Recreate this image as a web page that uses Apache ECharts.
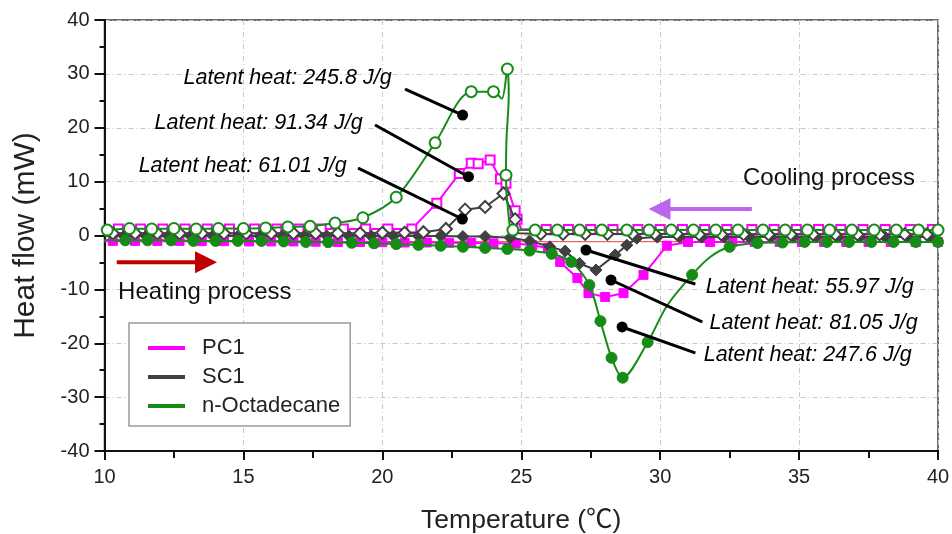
<!DOCTYPE html>
<html>
<head>
<meta charset="utf-8">
<script src="https://cdn.jsdelivr.net/npm/echarts@6/dist/echarts.min.js"></script>
<style>
html,body{margin:0;padding:0;background:#fff;}
#container{width:952px;height:534px;}
</style>
</head>
<body>
<div id="container"></div>
<script>
// heat flow (mW) against temperature (C); a third value 0 marks a point of the line drawn without a symbol
var octHeat = [[10.1,1.0],[10.9,1.3],[11.7,1.2],[12.5,1.3],[13.3,1.2],[14.1,1.3],[15.0,1.3],[15.8,1.4],[16.6,1.6],[17.4,1.7],
    [18.3,2.3],[19.3,3.3],[20.5,7.1],[21.9,17.2],[23.2,26.7],[24.0,26.7],[24.3,25.4,0],[24.5,30.9],[24.55,26.0,0],[24.47,18.0,0],
    [24.45,11.2],[24.52,5.0,0],[24.7,1.0],[25.5,1.0],[26.3,1.0],[27.1,1.0],[27.9,1.0],[28.8,1.0],[29.6,1.0],[30.4,1.0],[31.2,1.0],
    [32.0,1.0],[32.8,1.0],[33.7,1.0],[34.5,1.0],[35.3,1.0],[36.1,1.0],[36.9,1.0],[37.7,1.0],[38.5,1.0],[39.3,1.0],[40.0,1.0]];
var octCool = [[10.0,-0.8,0],[10.75,-0.9],[11.55,-0.9],[12.4,-0.9],[13.2,-1.0],[14.0,-1.0],[14.8,-1.0],[15.65,-1.0],[16.45,-1.1],
    [17.25,-1.2],[18.05,-1.25],[18.9,-1.35],[19.7,-1.45],[20.5,-1.6],[21.3,-1.75],[22.1,-1.9],[22.9,-2.1],[23.7,-2.3],[24.5,-2.5],
    [25.3,-2.8],[26.1,-3.4],[26.8,-4.9],[27.45,-9.2],[27.85,-15.9],[28.25,-22.7],[28.65,-26.4],[29.55,-19.8],[30.25,-13.0,0],
    [31.15,-7.3],[31.8,-4.0,0],[32.5,-2.1],[33.5,-1.4],[34.4,-1.3],[35.2,-1.2],[36.0,-1.2],[36.8,-1.2],[37.6,-1.2],[38.4,-1.2],
    [39.2,-1.2],[40.0,-1.2]];
var pc1Heat = [[10.0,1.1,0],[10.5,1.2],[11.3,1.2],[12.1,1.2],[12.9,1.2],[13.7,1.2],[14.5,1.2],[15.4,1.2],[16.2,1.2],[17.0,1.2],
    [17.8,1.2],[18.6,1.2],[19.4,1.2],[20.2,1.2],[21.06,1.2],[21.96,6.0],[22.77,11.5],[23.2,13.4],[23.45,13.3],[23.88,14.0],
    [24.25,10.5],[24.45,9.7],[24.78,4.6],[24.85,3.0],[25.0,1.2,0],[25.9,1.1],[26.7,1.1],[27.5,1.1],[28.3,1.1],[29.2,1.1],[30.0,1.1],
    [30.8,1.1],[31.6,1.1],[32.4,1.1],[33.3,1.1],[34.1,1.1],[34.9,1.1],[35.7,1.1],[36.5,1.1],[37.3,1.1],[38.1,1.1],[39.0,1.1],[39.8,1.1],[40.0,1.1,0]];
var pc1Cool = [[10.0,-1.0,0],[10.3,-1.0],[11.1,-1.0],[11.9,-1.0],[12.7,-1.0],[13.5,-1.05],[14.3,-1.05],[15.2,-1.1],[16.0,-1.1],
    [16.8,-1.1],[17.6,-1.15],[18.4,-1.2],[19.2,-1.2],[20.0,-1.25],[20.8,-1.3],[21.6,-1.3],[22.4,-1.35],[23.2,-1.4],[24.0,-1.45],
    [24.8,-1.5],[25.4,-1.8],[25.96,-2.3],[26.4,-4.9],[27.02,-7.9],[27.42,-10.7],[28.02,-11.4],[28.68,-10.7],[29.4,-7.3],[30.24,-1.9],
    [31.0,-1.2],[31.8,-1.2],[32.6,-1.2],[33.4,-1.2],[34.3,-1.2],[35.1,-1.2],[35.9,-1.2],[36.7,-1.2],[37.5,-1.2],[38.3,-1.2],[39.2,-1.2],[40.0,-1.2]];
var sc1Heat = [[10.0,0.4,0],[10.3,0.4],[11.1,0.4],[11.9,0.4],[12.7,0.4],[13.5,0.4],[14.3,0.4],[15.1,0.4],[16.0,0.4],[16.8,0.4],
    [17.6,0.4],[18.4,0.4],[19.2,0.4],[20.0,0.5],[20.8,0.5],[21.48,0.6],[22.29,1.2],[22.98,4.8],[23.7,5.3],[24.36,7.8],[24.78,3.0],
    [24.9,0.4,0],[25.7,0.3],[26.5,0.3],[27.3,0.3],[28.1,0.3],[29.0,0.3],[29.8,0.3],[30.6,0.3],[31.4,0.2],[32.2,0.2],[33.0,0.2],
    [33.9,0.2],[34.7,0.2],[35.5,0.2],[36.3,0.2],[37.1,0.2],[37.9,0.2],[38.8,0.2],[39.6,0.2],[40.0,0.2,0]];
var sc1Cool = [[10.0,-0.1,0],[10.7,-0.1],[11.5,-0.1],[12.3,-0.1],[13.1,-0.1],[13.9,-0.1],[14.8,-0.1],[15.6,-0.1],[16.4,-0.1],
    [17.2,-0.1],[18.0,-0.1],[18.8,-0.1],[19.6,-0.1],[20.4,-0.1],[21.3,-0.1],[22.1,-0.1],[22.9,-0.2],[23.7,-0.2],[24.6,-0.4],
    [25.3,-1.0],[26.03,-2.1],[26.58,-2.9],[27.1,-5.2],[27.69,-6.4],[28.38,-3.6],[28.8,-1.8],[29.16,-0.5],[29.9,-0.3],[30.7,-0.3],
    [31.5,-0.3],[32.3,-0.3],[33.2,-0.3],[34.0,-0.3],[34.8,-0.3],[35.6,-0.3],[36.4,-0.3],[37.2,-0.3],[38.1,-0.3],[38.9,-0.3],[39.7,-0.3],[40.0,-0.3,0]];
var baseLine = [[10,-1.15],[40,-1.15]];

var legendNames = ['PC1','SC1','n-Octadecane'];
var noteText = ['Latent heat: 245.8 J/g','Latent heat: 91.34 J/g','Latent heat: 61.01 J/g',
                'Latent heat: 55.97 J/g','Latent heat: 81.05 J/g','Latent heat: 247.6 J/g'];
var noteDot = [[22.89,22.36],[23.10,10.91],[22.88,3.06],[27.33,-2.69],[28.23,-8.26],[28.63,-16.98]];
var noteEnd = [[20.82,27.18],[19.74,20.50],[19.13,12.52],[31.26,-9.0],[31.51,-16.05],[31.26,-21.8]];
var noteSide = ['left','left','left','right','right','right'];
var noteShift = [[13,-11],[12,-2],[11,-2],[10,3],[7,1],[8,2]];

var FONT = "'Liberation Sans', Arial, 'Noto Sans CJK SC', sans-serif";
var cMag = '#ff00ff', cGray = '#404040', cGreen = '#168c16';

function symSize(s) {
    return function (v) { return v.length > 2 ? 0 : s; };
}
function curve(name, data, color, symbol, size, hollow, z, smooth) {
    return {
        name: name, type: 'line', data: data, z: z, smooth: smooth || false,
        symbol: symbol, symbolSize: symSize(size), showAllSymbol: true,
        lineStyle: {color: color, width: 2},
        itemStyle: {color: hollow ? '#fff' : color, borderColor: color, borderWidth: hollow ? 2 : 1},
        emphasis: {disabled: true}, animation: false
    };
}

var series = [
    {type: 'line', data: baseLine, symbol: 'none', z: 1, lineStyle: {color: '#e8402f', width: 1}, animation: false, silent: true},
    curve('PC1', pc1Cool, cMag, 'rect', 9, false, 2),
    curve('PC1', pc1Heat, cMag, 'rect', 9, true, 2),
    curve('SC1', sc1Cool, cGray, 'diamond', 12, false, 3),
    curve('SC1', sc1Heat, cGray, 'diamond', 12, true, 3),
    curve('n-Octadecane', octCool, cGreen, 'circle', 11, false, 4, 0.3),
    curve('n-Octadecane', octHeat, cGreen, 'circle', 11, true, 4, 0.3)
];
noteText.forEach(function (t, i) {
    series.push({
        type: 'line', z: 6, animation: false, silent: true,
        lineStyle: {color: '#000', width: 3},
        itemStyle: {color: '#000'},
        symbol: 'circle',
        data: [
            {value: noteDot[i], symbolSize: 11},
            {value: noteEnd[i], symbolSize: 1,
             label: {show: true, position: noteSide[i], distance: noteShift[i][0], offset: [0, noteShift[i][1]],
                     formatter: t, color: '#000', fontSize: 21.5, fontStyle: 'italic', fontFamily: FONT}}
        ]
    });
});

var myChart = echarts.init(document.getElementById('container'));
var option = {
    animation: false,
    backgroundColor: '#fff',
    grid: {left: 104.5, right: 14, top: 20, bottom: 83, show: true, borderColor: '#3a3a3a', borderWidth: 1.5,
           containLabel: false, outerBoundsMode: 'none'},
    legend: {
        left: 129, top: 323, orient: 'vertical', icon: 'rect', itemWidth: 37, itemHeight: 4, itemGap: 7,
        padding: [14, 10, 9, 19], borderColor: '#9a9a9a', borderWidth: 1.5, backgroundColor: '#fff',
        selectedMode: false,
        textStyle: {fontSize: 22, color: '#222', fontFamily: FONT, padding: [0, 0, 0, 12]},
        data: [
            {name: legendNames[0], itemStyle: {color: cMag, borderWidth: 0}},
            {name: legendNames[1], itemStyle: {color: cGray, borderWidth: 0}},
            {name: legendNames[2], itemStyle: {color: cGreen, borderWidth: 0}}
        ]
    },
    xAxis: {
        type: 'value', min: 10, max: 40, interval: 5,
        name: 'Temperature (℃)', nameLocation: 'middle', nameGap: 56,
        nameTextStyle: {fontSize: 26.5, color: '#222', fontFamily: FONT},
        axisLine: {onZero: false, lineStyle: {color: '#111', width: 2}},
        axisTick: {show: true, inside: false, length: 9, lineStyle: {color: '#111', width: 2}},
        minorTick: {show: true, splitNumber: 2, length: 7, lineStyle: {color: '#111', width: 2}},
        axisLabel: {fontSize: 20, color: '#222', fontFamily: FONT, margin: 16},
        splitLine: {show: true, lineStyle: {color: '#c8c8c8', type: [5, 3, 1, 3], width: 1}}
    },
    yAxis: {
        type: 'value', min: -40, max: 40, interval: 10,
        name: 'Heat flow (mW)', nameLocation: 'middle', nameGap: 64,
        nameTextStyle: {fontSize: 30, color: '#222', fontFamily: FONT},
        axisLine: {show: true, onZero: false, lineStyle: {color: '#111', width: 2}},
        axisTick: {show: true, inside: false, length: 10, lineStyle: {color: '#111', width: 2}},
        minorTick: {show: true, splitNumber: 2, length: 5, lineStyle: {color: '#111', width: 2}},
        axisLabel: {fontSize: 20, color: '#222', fontFamily: FONT, margin: 15},
        splitLine: {show: true, lineStyle: {color: '#c8c8c8', type: [5, 3, 1, 3], width: 1}}
    },
    series: series
};
myChart.setOption(option);

// process arrows and captions, placed in data coordinates
function arrow(tail, tip, color) {
    var a = myChart.convertToPixel({gridIndex: 0}, tail);
    var b = myChart.convertToPixel({gridIndex: 0}, tip);
    var dir = b[0] > a[0] ? 1 : -1, y = a[1], hb = b[0] - dir * 22;
    return {
        type: 'polygon', z: 10, silent: true,
        shape: {points: [[a[0], y - 2], [hb, y - 2], [hb, y - 11], [b[0], y], [hb, y + 11], [hb, y + 2], [a[0], y + 2]]},
        style: {fill: color}
    };
}
function caption(text, at) {
    var p = myChart.convertToPixel({gridIndex: 0}, at);
    return {type: 'text', z: 10, silent: true, x: p[0], y: p[1],
            style: {text: text, fontSize: 24, fill: '#111', fontFamily: FONT, verticalAlign: 'middle', align: 'left'}};
}
myChart.setOption({graphic: [
    arrow([10.44, -4.95], [14.05, -4.95], '#c00000'),
    arrow([33.3, 4.92], [29.58, 4.92], '#bb66ee'),
    caption('Heating process', [10.49, -10.5]),
    caption('Cooling process', [32.98, 10.67])
]});
</script>
</body>
</html>
